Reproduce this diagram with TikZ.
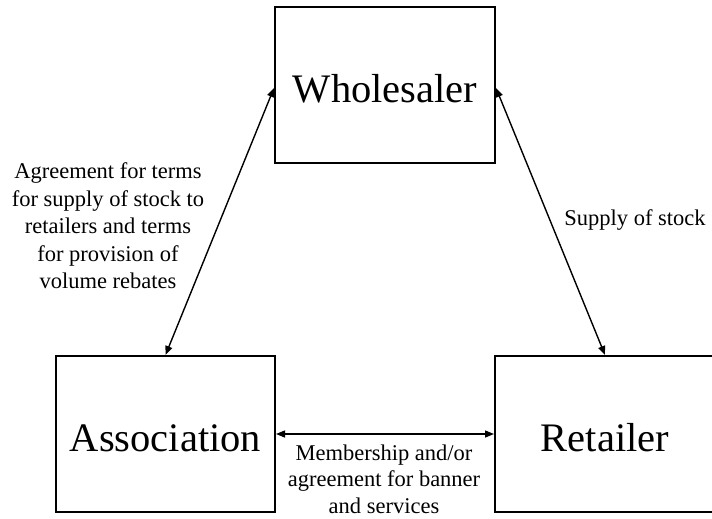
\documentclass[tikz,border=0pt]{standalone}
\usepackage{fontspec}
\setmainfont{Liberation Serif}
\usetikzlibrary{arrows.meta}
\begin{document}
\begin{tikzpicture}[x=1pt,y=-1pt,
 box/.style={draw,line width=2pt,minimum width=220pt,minimum height=156pt,inner sep=0pt,text height=34pt,text depth=0pt,font=\fontsize{40.5}{46}\selectfont},
 link/.style={line width=1.4pt,{Triangle[length=9pt,width=7pt]}-{Triangle[length=9pt,width=7pt]}},
 lab/.style={align=center,font=\fontsize{22.5}{27.5}\selectfont,inner sep=0pt}]
\useasboundingbox (0,0) rectangle (712,519);
\clip (0,0) rectangle (712,519);
\node[box] (W) at (385,85) {Wholesaler};
\node[box,minimum width=219pt] (A) at (165.5,434) {Association};
\node[box] (R) at (605,434) {Retailer};
\draw[link] ([yshift=-3pt]W.west) -- (A.north);
\draw[link] ([yshift=-3pt]W.east) -- (R.north);
\draw[link] (A.east) -- (R.west);
\node[lab] (la) at (108,226) {Agreement for terms\\for supply of stock to\\retailers and terms\\for provision of\\volume rebates};
\node[lab] (lr) at (635,220) {Supply of stock};
\node[lab,font=\fontsize{22.5}{26.5}\selectfont] (lb) at (384,479) {Membership and/or\\agreement for banner\\and services};
\end{tikzpicture}
\end{document}
